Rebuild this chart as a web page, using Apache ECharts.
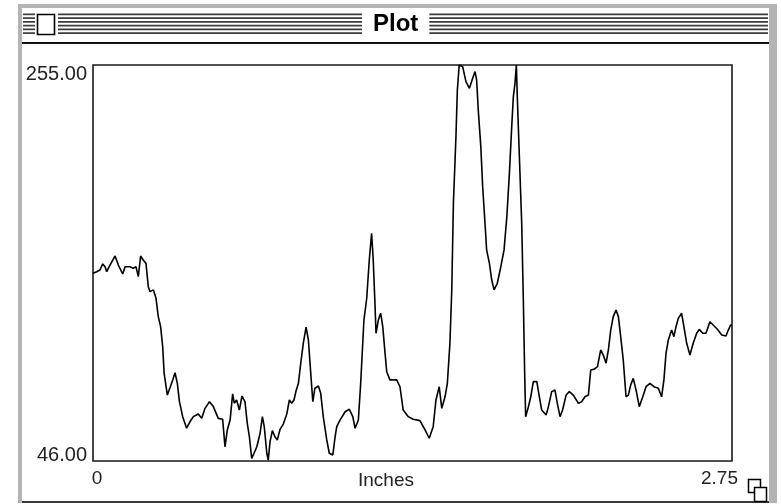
<!DOCTYPE html>
<html>
<head>
<meta charset="utf-8">
<script src="https://cdn.jsdelivr.net/npm/echarts@6/dist/echarts.min.js"></script>
<style>
  html, body { margin: 0; background: #fff; }
  #main { width: 781px; height: 504px; }
</style>
</head>
<body>
<div id="main"></div>
<script>
// profile position along the line (inches) and grey value
const inches = [0, 0.016, 0.030, 0.042, 0.052, 0.059, 0.073, 0.095, 0.109, 0.128, 0.138, 0.159, 0.173, 0.185, 0.195, 0.205, 0.216, 0.228, 0.238, 0.245,
  0.260, 0.271, 0.281, 0.291, 0.300, 0.306, 0.320, 0.331, 0.343, 0.353, 0.363, 0.372, 0.386, 0.403, 0.417, 0.432, 0.453, 0.468, 0.482, 0.501,
  0.518, 0.539, 0.558, 0.568, 0.578, 0.590, 0.601, 0.608, 0.618, 0.630, 0.641, 0.654, 0.664, 0.673, 0.683, 0.693, 0.705, 0.719, 0.729, 0.737,
  0.748, 0.754, 0.762, 0.772, 0.783, 0.793, 0.805, 0.819, 0.834, 0.845, 0.855, 0.865, 0.874, 0.884, 0.894, 0.905, 0.917, 0.927, 0.934, 0.946,
  0.955, 0.970, 0.980, 0.991, 1.006, 1.017, 1.032, 1.042, 1.049, 1.063, 1.085, 1.103, 1.118, 1.128, 1.142, 1.152, 1.166, 1.178, 1.189, 1.199,
  1.206, 1.214, 1.218, 1.228, 1.238, 1.247, 1.257, 1.264, 1.278, 1.307, 1.321, 1.335, 1.357, 1.378, 1.407, 1.429, 1.447, 1.464, 1.476, 1.490,
  1.501, 1.515, 1.525, 1.536, 1.544, 1.551, 1.562, 1.568, 1.576, 1.591, 1.605, 1.620, 1.634, 1.644, 1.651, 1.658, 1.669, 1.677, 1.687, 1.694,
  1.706, 1.716, 1.726, 1.740, 1.755, 1.769, 1.781, 1.792, 1.802, 1.809, 1.816, 1.822, 1.826, 1.835, 1.845, 1.852, 1.858, 1.862, 1.874, 1.884,
  1.895, 1.910, 1.921, 1.931, 1.950, 1.960, 1.974, 1.988, 1.998, 2.010, 2.021, 2.036, 2.050, 2.067, 2.089, 2.103, 2.117, 2.132, 2.142, 2.156,
  2.171, 2.185, 2.196, 2.208, 2.218, 2.228, 2.239, 2.251, 2.261, 2.271, 2.282, 2.294, 2.304, 2.314, 2.325, 2.337, 2.351, 2.366, 2.380, 2.397,
  2.414, 2.433, 2.447, 2.457, 2.466, 2.476, 2.490, 2.500, 2.509, 2.519, 2.533, 2.543, 2.555, 2.569, 2.583, 2.598, 2.609, 2.624, 2.638, 2.655,
  2.669, 2.687, 2.706, 2.724, 2.734, 2.744, 2.750];
const values = [145.1, 145.9, 146.8, 150.0, 148.5, 145.9, 149.4, 154.2, 149.4, 144.7, 148.5, 148.5, 147.7, 148.5, 143.3, 154.2, 152.1, 150.3, 138.0, 135.4,
  136.3, 132.0, 122.2, 116.9, 106.3, 92.4, 80.8, 84.5, 88.8, 92.6, 87.0, 77.3, 69.4, 63.3, 66.7, 69.4, 70.8, 68.5, 73.8, 77.3,
  74.7, 68.5, 68.0, 53.5, 62.4, 67.6, 81.4, 76.5, 78.2, 72.9, 80.3, 77.3, 65.9, 58.8, 47.4, 50.1, 53.5, 60.6, 69.4, 64.1,
  50.1, 46.5, 56.2, 62.0, 58.8, 57.1, 62.7, 65.5, 70.8, 78.2, 76.5, 78.2, 83.1, 87.0, 97.6, 108.1, 116.6, 109.9, 97.6, 77.3,
  84.4, 85.6, 81.7, 69.4, 57.1, 50.1, 49.2, 58.8, 64.1, 67.6, 72.0, 73.3, 69.4, 63.3, 67.6, 87.0, 120.4, 131.9, 152.1, 166.2,
  152.1, 127.4, 113.4, 120.4, 124.0, 116.9, 102.8, 93.1, 88.8, 88.8, 85.2, 72.9, 69.4, 68.0, 67.3, 62.4, 58.0, 64.1, 78.2, 85.2,
  73.8, 79.9, 87.0, 108.1, 136.3, 182.0, 217.2, 241.8, 255, 254.1, 246.2, 242.7, 248.0, 251.5, 247.1, 231.3, 211.9, 190.8, 171.5, 157.4,
  150.3, 141.5, 136.3, 139.8, 148.5, 157.4, 174.9, 197.8, 222.4, 238.3, 245.3, 255, 238.3, 206.6, 171.5, 131.0, 90.5, 69.4, 74.7, 79.9,
  87.9, 87.9, 79.9, 72.9, 70.3, 74.7, 82.6, 83.5, 76.5, 69.4, 72.9, 80.8, 82.6, 80.8, 76.5, 77.3, 79.9, 80.8, 94.0, 94.4,
  95.8, 104.6, 101.9, 97.6, 104.6, 115.1, 122.2, 125.7, 122.2, 111.6, 99.3, 79.9, 80.8, 86.1, 89.6, 83.5, 74.7, 79.9, 85.2, 87.0,
  85.2, 84.4, 79.9, 88.8, 102.8, 109.9, 115.1, 111.6, 116.9, 121.3, 124.0, 116.9, 108.1, 101.9, 108.1, 113.4, 115.5, 113.4, 113.4, 119.5,
  117.8, 115.5, 112.5, 112.0, 115.1, 117.8, 117.8];

const yTicks = [46, 255];
const yTickLabels = ['46.00', '255.00'];
const xTicks = [0, 2.75];
const xTickLabels = ['0', '2.75'];
const axisName = 'Inches';
const windowTitle = 'Plot';

const chartDom = document.getElementById('main');
const myChart = echarts.init(chartDom);

const n = Math.min(inches.length, values.length);
const points = [];
for (let i = 0; i < n; i++) points.push([inches[i], values[i]]);

// old-style window chrome: frame, striped title bar, close box, grow box
const chrome = [
  { type: 'rect', shape: { x: 18, y: 4, width: 759, height: 4 }, style: { fill: '#b4b4b4' } },
  { type: 'rect', shape: { x: 18, y: 4, width: 4, height: 499 }, style: { fill: '#b4b4b4' } },
  { type: 'rect', shape: { x: 769, y: 4, width: 8, height: 499 }, style: { fill: '#b4b4b4' } },
  { type: 'rect', shape: { x: 22, y: 501, width: 747, height: 2 }, style: { fill: '#3a3a3a' } },
  { type: 'rect', shape: { x: 22, y: 42, width: 747, height: 2 }, style: { fill: '#111' } }
];
const stripeSegs = [[23, 35], [58, 362], [428, 768]];
for (let i = 0; i < 6; i++) {
  const y = 13.5 + i * 3.75;
  stripeSegs.forEach(s => {
    chrome.push({ type: 'rect', shape: { x: s[0], y: y, width: s[1] - s[0], height: 1.7 }, style: { fill: '#3c3c3c' } });
  });
}
chrome.push({ type: 'rect', shape: { x: 37.5, y: 14.5, width: 17, height: 20 }, style: { fill: '#fff', stroke: '#000', lineWidth: 1.6 } });
chrome.push({ type: 'rect', shape: { x: 748.5, y: 479.5, width: 12, height: 13 }, style: { fill: '#fff', stroke: '#000', lineWidth: 1.5 } });
chrome.push({ type: 'rect', shape: { x: 754.5, y: 487.5, width: 12, height: 14 }, style: { fill: '#fff', stroke: '#000', lineWidth: 1.5 } });

const labelFont = 'Liberation Sans, Arial, sans-serif';

const option = {
  animation: false,
  backgroundColor: '#fff',
  title: {
    text: windowTitle,
    left: 362,
    top: 10,
    padding: [2, 11, 2, 11],
    backgroundColor: '#fff',
    textStyle: { fontSize: 24, fontWeight: 'bold', fontFamily: labelFont, color: '#000', lineHeight: 24 }
  },
  graphic: chrome,
  grid: {
    left: 93, top: 65, width: 639, height: 396,
    outerBoundsMode: 'none',
    containLabel: false,
    show: true, borderColor: '#1a1a1a', borderWidth: 1.6, backgroundColor: '#fff'
  },
  xAxis: {
    type: 'value',
    min: xTicks[0],
    max: xTicks[1],
    interval: xTicks[1],
    name: axisName,
    nameLocation: 'middle',
    nameGap: 10,
    nameMoveOverlap: false,
    nameTextStyle: {
      fontSize: 19, fontFamily: 'Liberation Sans Narrow, Liberation Sans, sans-serif', color: '#222',
      padding: [0, 53, 0, 0]
    },
    axisLine: { show: false },
    axisTick: { show: false },
    splitLine: { show: false },
    axisLabel: {
      margin: 8,
      formatter: function (v) {
        const i = xTicks.indexOf(v);
        if (i < 0) return '';
        return i === 0 ? '{lo|' + xTickLabels[i] + '}' : '{hi|' + xTickLabels[i] + '}';
      },
      rich: {
        lo: { fontSize: 19, fontFamily: labelFont, color: '#222', padding: [0, 0, 0, 8] },
        hi: { fontSize: 19, fontFamily: labelFont, color: '#222', padding: [0, 25, 0, 0] }
      }
    }
  },
  yAxis: {
    type: 'value',
    min: yTicks[0],
    max: yTicks[1],
    axisLine: { show: false },
    axisTick: { show: false },
    splitLine: { show: false },
    axisLabel: {
      margin: 6,
      formatter: function (v) {
        const i = yTicks.indexOf(v);
        if (i < 0) return '';
        return i === 1 ? '{hi|' + yTickLabels[i] + '}' : '{lo|' + yTickLabels[i] + '}';
      },
      rich: {
        hi: { fontSize: 20, lineHeight: 20, fontFamily: labelFont, color: '#222', padding: [18, 0, 0, 0] },
        lo: { fontSize: 20, lineHeight: 20, fontFamily: labelFont, color: '#222', padding: [0, 0, 12, 0] }
      }
    }
  },
  series: [
    {
      name: 'profile',
      type: 'line',
      data: points,
      showSymbol: false,
      lineStyle: { color: '#000', width: 1.6 },
      z: 3
    }
  ]
};
myChart.setOption(option);
</script>
</body>
</html>
